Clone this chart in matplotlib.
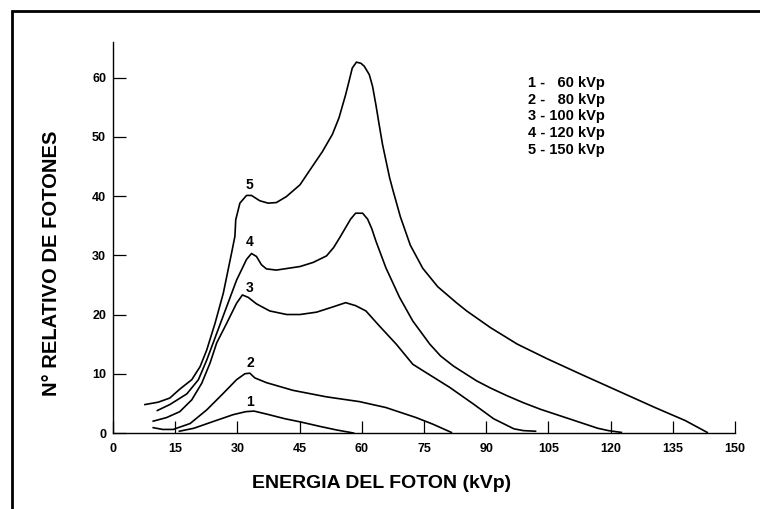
import matplotlib
matplotlib.use('Agg')
import matplotlib.pyplot as plt
from matplotlib.patches import Rectangle

plt.rcParams['font.family'] = ['Liberation Sans', 'DejaVu Sans']
plt.rcParams['font.weight'] = 'bold'

# espectros de rayos X
x1 = [16, 19.5, 24, 29, 32, 34, 37, 41.5, 45, 50, 54, 58]
y1 = [0.3, 0.8, 1.9, 3.1, 3.6, 3.7, 3.2, 2.4, 1.9, 1.1, 0.5, 0.0]

x2 = [9.7, 12, 14.5, 18.6, 22.6, 26.6, 29.8, 31.8, 33.0, 34.2, 37, 43.4, 51.5,
      59.4, 65.8, 73.1, 77.1, 81.6]
y2 = [0.9, 0.6, 0.6, 1.6, 3.9, 6.7, 9.0, 10.0, 10.1, 9.3, 8.5, 7.2, 6.1,
      5.3, 4.3, 2.6, 1.5, 0.1]

x3 = [9.7, 12.9, 16.1, 19.0, 21.4, 23.4, 25.0, 27.4, 29.8, 31.2, 32.6, 34.6,
      37.8, 41.9, 45.1, 49.1, 53.1, 56.1, 58.5, 61.0, 64.2, 68.3, 72.3, 74.8,
      81.2, 86.9, 91.8, 96.7, 99.0, 101.9]
y3 = [2.0, 2.6, 3.6, 5.6, 8.4, 11.8, 15.2, 18.5, 21.9, 23.3, 22.9, 21.8,
      20.6, 20.0, 20.0, 20.4, 21.3, 22.0, 21.5, 20.6, 18.1, 15.0, 11.6, 10.5,
      7.7, 4.9, 2.4, 0.7, 0.4, 0.3]

x4 = [10.7, 13.7, 17.8, 20.6, 22.6, 25.0, 27.4, 29.8, 32.2, 33.4, 34.6, 35.8,
      37.0, 39.4, 45.1, 48.3, 51.5, 53.2, 54.7, 57.3, 58.5, 60.2, 61.4, 62.4,
      63.4, 65.8, 69.1, 72.3, 76.4, 79.0, 82.1, 85.0, 87.7, 91.0, 95.0, 99.0,
      103.1, 111.3, 116.9, 119.5, 122.6]
y4 = [3.8, 4.8, 6.6, 9.0, 12.3, 16.8, 21.3, 25.8, 29.3, 30.3, 29.8, 28.4,
      27.7, 27.5, 28.1, 28.8, 29.9, 31.3, 33.0, 36.1, 37.1, 37.1, 36.1, 34.5,
      32.4, 27.9, 22.9, 18.9, 15.0, 13.0, 11.3, 10.0, 8.8, 7.6, 6.3, 5.1,
      4.0, 2.1, 0.8, 0.4, 0.1]

x5 = [7.7, 10.9, 13.7, 16.1, 19.0, 21.0, 22.6, 24.6, 26.6, 28.6, 29.4, 29.6,
      30.6, 32.2, 33.4, 35.4, 37.4, 39.4, 41.8, 45.1, 47.5, 50.5, 52.9, 54.5,
      56.1, 57.0, 57.7, 58.7, 59.8, 60.6, 61.8, 62.6, 63.4, 64.2, 65.0, 66.7,
      67.5, 69.3, 71.7, 74.7, 78.3, 82.8, 85.3, 91.0, 97.5, 104.8, 112.9,
      121.8, 130.7, 138.0, 143.3]
y5 = [4.8, 5.2, 5.9, 7.4, 9.0, 11.2, 14.0, 18.5, 23.6, 30.4, 33.2, 36.0,
      38.8, 40.1, 40.1, 39.2, 38.8, 38.9, 39.9, 41.9, 44.4, 47.5, 50.4, 53.2,
      57.1, 59.6, 61.6, 62.6, 62.4, 61.9, 60.5, 58.5, 55.4, 52.0, 48.7, 43.1,
      41.0, 36.5, 31.7, 27.8, 24.7, 22.0, 20.6, 17.8, 15.0, 12.5, 9.9,
      7.1, 4.3, 2.1, 0.1]

curve_ids = ['1', '2', '3', '4', '5']
label_x = 33.0
label_y = [5.2, 11.8, 24.5, 32.3, 41.9]
legend_lines = ['1 -   60 kVp', '2 -   80 kVp', '3 - 100 kVp', '4 - 120 kVp', '5 - 150 kVp']

xticks = list(range(0, 151, 15))
yticks = list(range(0, 61, 10))

fig = plt.figure(figsize=(7.6, 5.09), dpi=100)
ax = fig.add_axes([113/760, 1-433/509, 622/760, 391/509])

for xs, ys in [(x1, y1), (x2, y2), (x3, y3), (x4, y4), (x5, y5)]:
    ax.plot(xs, ys, color='black', lw=1.2, solid_joinstyle='round')

for cid, ly in zip(curve_ids, label_y):
    ax.text(label_x, ly, cid, ha='center', va='center', fontsize=10, fontweight='bold')

ly0 = 59.1
for i, s in enumerate(legend_lines):
    ax.text(100, ly0 - 2.83*i, s, ha='left', va='center', fontsize=10.5, fontweight='bold')

ax.set_xlim(0, 150)
ax.set_ylim(0, 66)
ax.set_xticks(xticks)
ax.set_yticks(yticks)
ax.spines['top'].set_visible(False)
ax.spines['right'].set_visible(False)
for sp in ['left', 'bottom']:
    ax.spines[sp].set_linewidth(1.0)
ax.tick_params(axis='x', direction='in', length=9, width=0.9, pad=7, labelsize=9)
ax.tick_params(axis='y', direction='in', length=9, width=0.9, pad=5, labelsize=9)
for lab in ax.get_xticklabels() + ax.get_yticklabels():
    lab.set_fontweight('bold')

fig.text(52/760, 1-263/509, 'N° RELATIVO DE FOTONES', rotation=90, ha='center', va='center',
         fontsize=14.5, fontweight='bold')
fig.text(382/760, 1-483/509, 'ENERGIA DEL FOTON (kVp)', ha='center', va='center',
         fontsize=14, fontweight='bold')

# marco de la figura
fig.add_artist(Rectangle((12/760, -0.1), 1.2, 1.1 - 11/509, transform=fig.transFigure,
                         fill=False, edgecolor='black', lw=2.0, clip_on=False))

fig.savefig('out.png', dpi=100)
